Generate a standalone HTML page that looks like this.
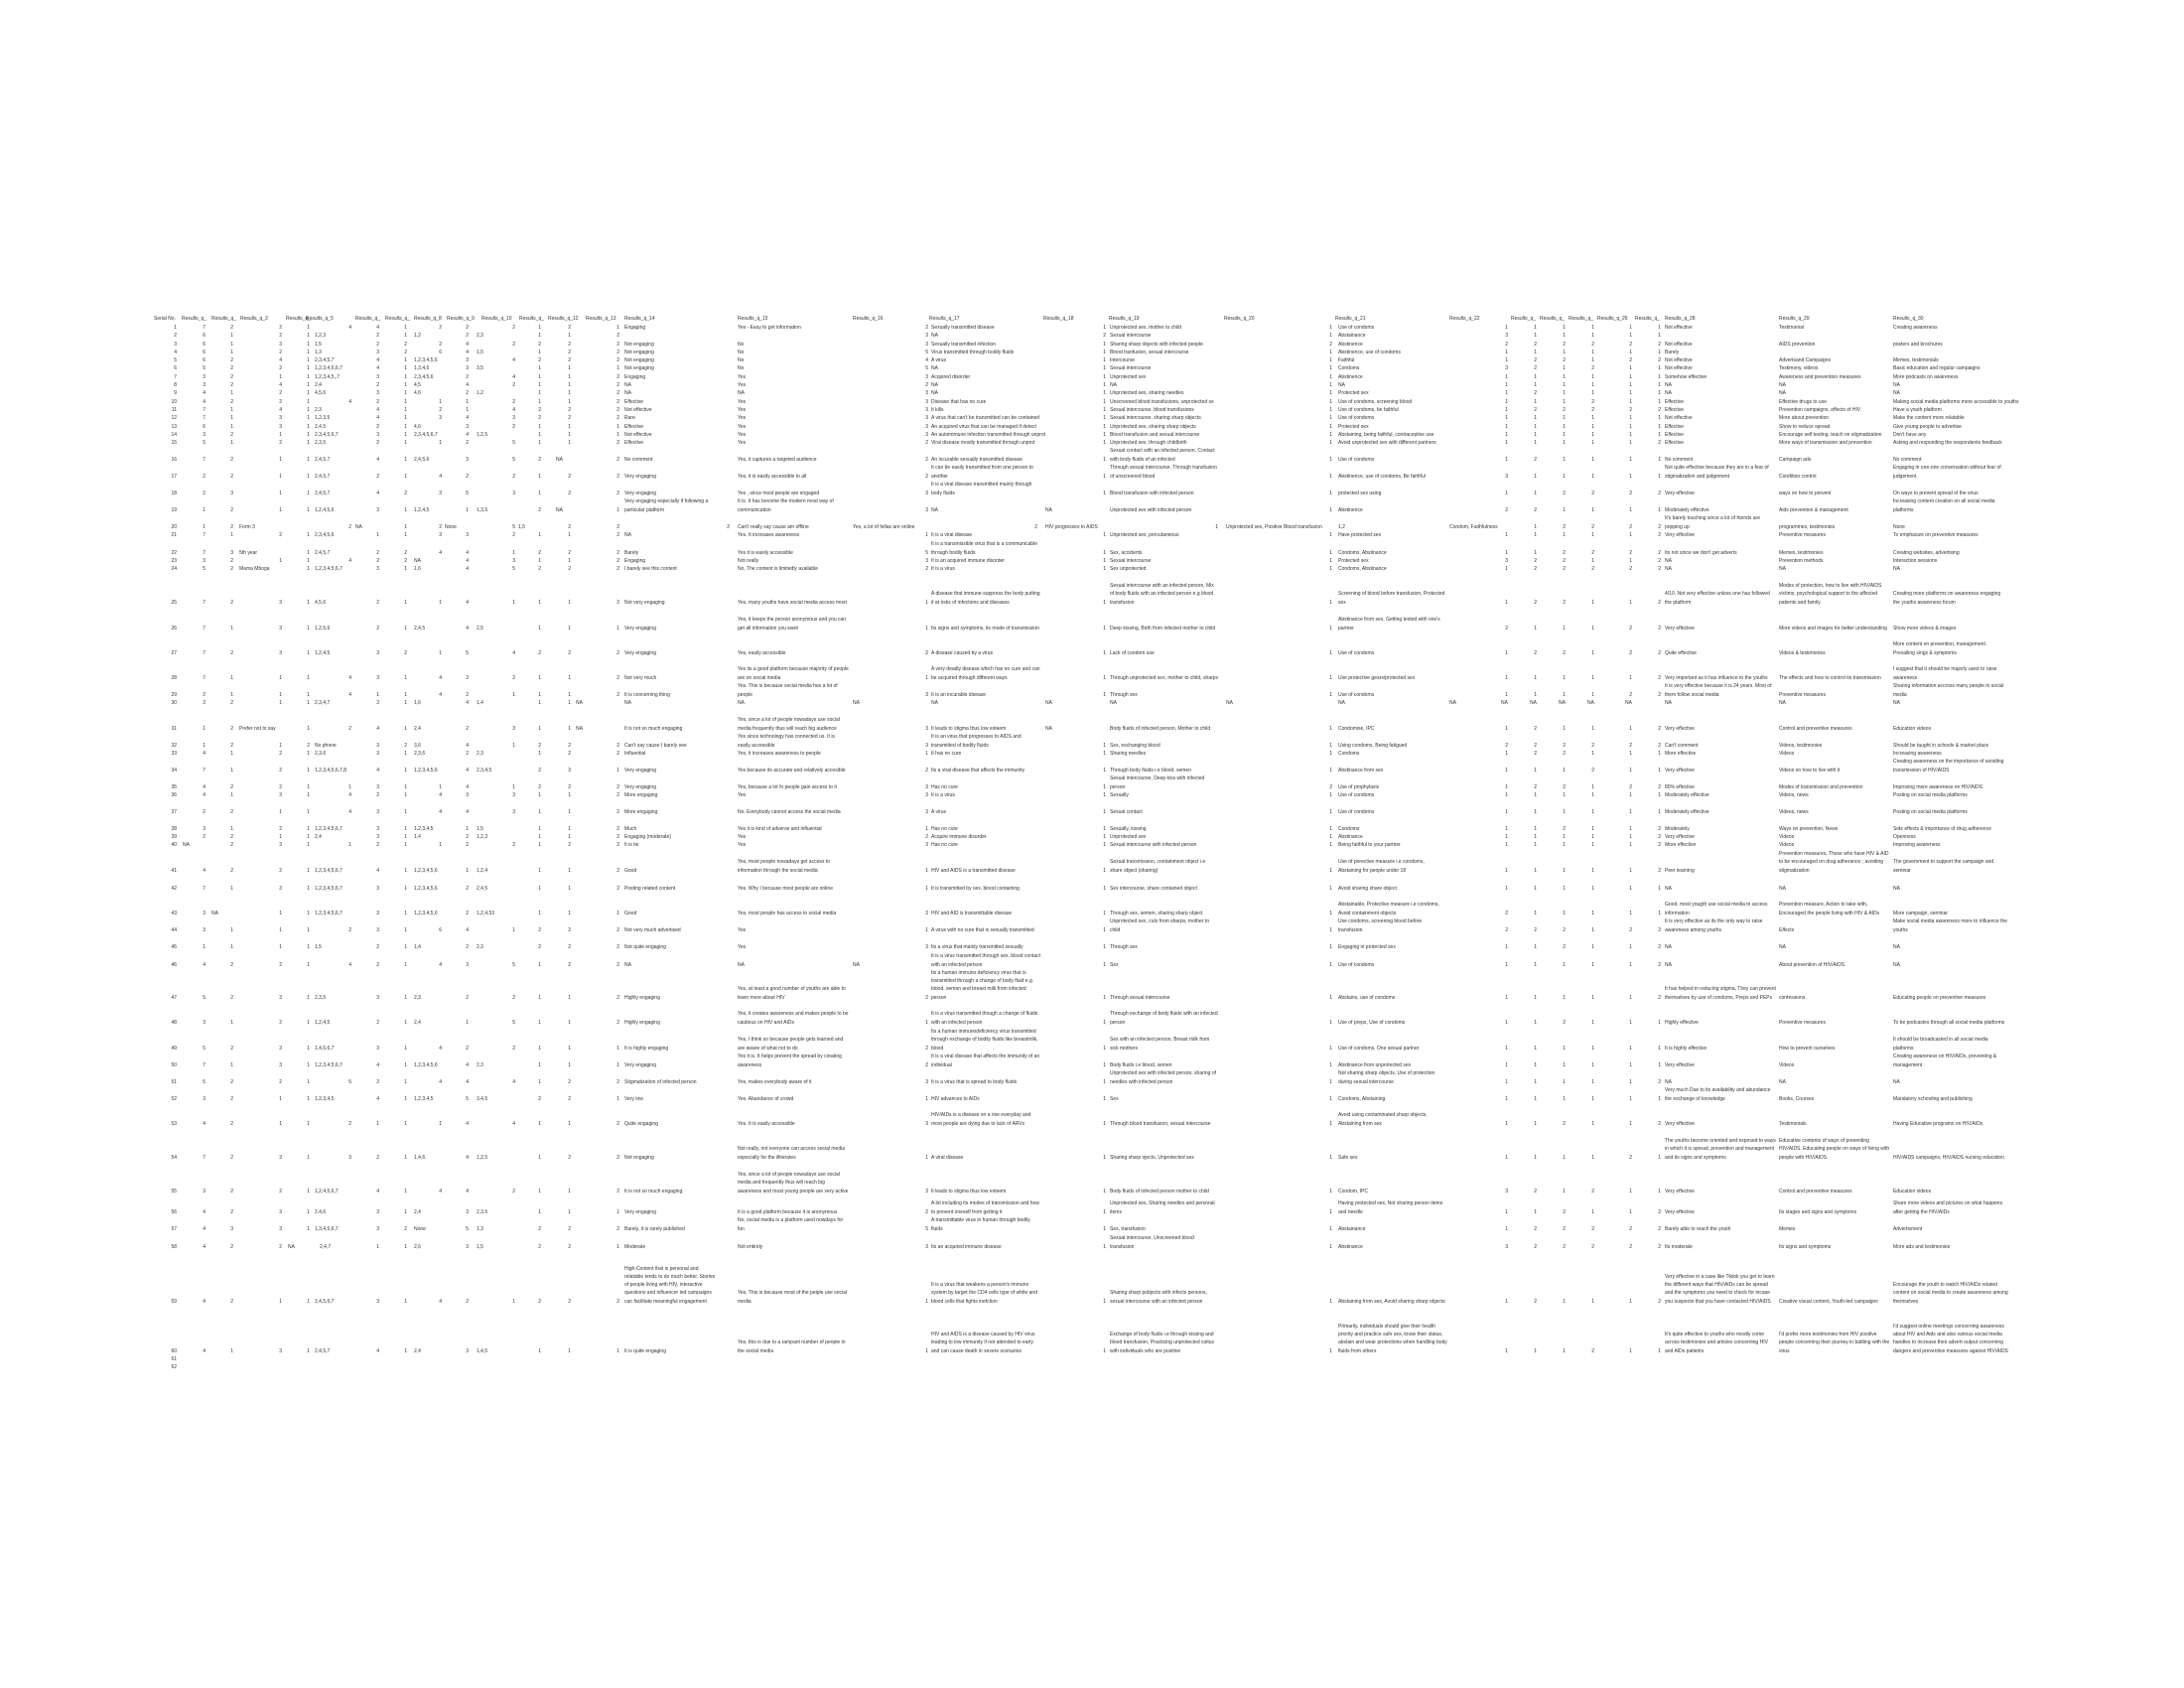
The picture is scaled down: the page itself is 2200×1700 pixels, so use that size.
<!DOCTYPE html>
<html><head><meta charset="utf-8">
<style>
html,body{margin:0;padding:0;background:#fff;}
body{width:2200px;height:1700px;position:relative;overflow:hidden;font-family:"Liberation Sans",sans-serif;font-size:5px;line-height:8.3px;color:#333;}
p{position:absolute;left:0;margin:0;width:2200px;height:8px;}
b{position:absolute;bottom:0;font-weight:400;white-space:nowrap;}
.n{width:20px;text-align:right}
.s{left:158px}.q1{left:187px}.q2{left:215px}.q3{left:264px}.q4{left:292px}.t5{left:317px}.q5{left:334px}.q6{left:362px}.q7{left:390px}.t8{left:417px}.q8{left:425px}.q9{left:452px}.t10{left:480px}.q10{left:499px}.q11{left:525px}.q12{left:555px}.q13{left:604px}
.t1{left:184px}.t2{left:213px}.t3{left:241px}.t4{left:290px}.t12{left:560px}
.t14{left:629px;width:92px;white-space:normal}
.q14{left:715px}
.t15{left:743px;width:112px;white-space:normal}
.t16{left:859px}
.q16{left:915px}
.t17{left:938px;width:112px;white-space:normal}
.t18{left:1053px}
.q18{left:1094px}
.t19{left:1118px;width:110px;white-space:normal}
.q20{left:1322px}
.t20{left:1235px}
.t21{left:1348px;width:110px;white-space:normal}
.t22{left:1460px}
.k1{left:1499px}.k2{left:1528px}.k3{left:1557px}.k4{left:1586px}.k5{left:1624px}.k6{left:1653px}
.t28{left:1677px;width:112px;white-space:normal}
.t29{left:1792px;width:112px;white-space:normal}
.t30{left:1907px;width:116px;white-space:normal}
</style></head><body>

<p style="top:317px"><b style="left:155px">Serial No.</b><b style="left:183px">Results_q_</b><b style="left:213px">Results_q_</b><b style="left:242px">Results_q_3</b><b style="left:288px">Results_q_</b><b style="left:308px">Results_q_5</b><b style="left:358px">Results_q_</b><b style="left:388px">Results_q_</b><b style="left:417px">Results_q_8</b><b style="left:450px">Results_q_9</b><b style="left:485px">Results_q_10</b><b style="left:523px">Results_q_</b><b style="left:552px">Results_q_12</b><b style="left:590px">Results_q_13</b><b style="left:629px">Results_q_14</b><b style="left:743px">Results_q_15</b><b style="left:859px">Results_q_16</b><b style="left:936px">Results_q_17</b><b style="left:1051px">Results_q_18</b><b style="left:1117px">Results_q_19</b><b style="left:1233px">Results_q_20</b><b style="left:1345px">Results_q_21</b><b style="left:1460px">Results_q_22</b><b style="left:1522px">Results_q_</b><b style="left:1551px">Results_q_</b><b style="left:1580px">Results_q_</b><b style="left:1609px">Results_q_26</b><b style="left:1647px">Results_q_</b><b style="left:1677px">Results_q_28</b><b style="left:1792px">Results_q_29</b><b style="left:1907px">Results_q_30</b></p>

<p style="top:326px"><b class="s n">1</b><b class="q1 n">7</b><b class="q2 n">2</b><b class="q3 n">2</b><b class="q4 n">1</b><b class="q5 n">4</b><b class="q6 n">4</b><b class="q7 n">1</b><b class="q8 n">2</b><b class="q9 n">2</b><b class="q10 n">2</b><b class="q11 n">1</b><b class="q12 n">2</b><b class="q13 n">1</b><b class="t14">Engaging</b><b class="t15">Yes - Easy to get information</b><b class="q16 n">2</b><b class="t17">Sexually transmitted disease</b><b class="q18 n">1</b><b class="t19">Unprotected sex, mother to child</b><b class="q20 n">1</b><b class="t21">Use of condoms</b><b class="k1 n">1</b><b class="k2 n">1</b><b class="k3 n">1</b><b class="k4 n">1</b><b class="k5 n">1</b><b class="k6 n">1</b><b class="t28">Not effective</b><b class="t29">Testimonial</b><b class="t30">Creating awareness</b></p>
<p style="top:334px"><b class="s n">2</b><b class="q1 n">6</b><b class="q2 n">1</b><b class="q3 n">2</b><b class="q4 n">1</b><b class="t5">1,2,3</b><b class="q6 n">2</b><b class="q7 n">1</b><b class="t8">1,2</b><b class="q9 n">2</b><b class="t10">2,3</b><b class="q11 n">1</b><b class="q12 n">1</b><b class="q13 n">2</b><b class="q16 n">3</b><b class="t17">NA</b><b class="q18 n">2</b><b class="t19">Sexual intercourse</b><b class="q20 n">1</b><b class="t21">Abstainance</b><b class="k1 n">3</b><b class="k2 n">1</b><b class="k3 n">1</b><b class="k4 n">1</b><b class="k5 n">1</b><b class="k6 n">1</b></p>
<p style="top:343px"><b class="s n">3</b><b class="q1 n">6</b><b class="q2 n">1</b><b class="q3 n">3</b><b class="q4 n">1</b><b class="t5">1,5</b><b class="q6 n">2</b><b class="q7 n">2</b><b class="q8 n">2</b><b class="q9 n">4</b><b class="q10 n">2</b><b class="q11 n">2</b><b class="q12 n">2</b><b class="q13 n">2</b><b class="t14">Not engaging</b><b class="t15">No</b><b class="q16 n">3</b><b class="t17">Sexually transmitted infection</b><b class="q18 n">1</b><b class="t19">Sharing sharp objects with infected people</b><b class="q20 n">2</b><b class="t21">Abstinence</b><b class="k1 n">2</b><b class="k2 n">2</b><b class="k3 n">2</b><b class="k4 n">2</b><b class="k5 n">2</b><b class="k6 n">2</b><b class="t28">Not effective</b><b class="t29">AIDS prevention</b><b class="t30">posters and brochures</b></p>
<p style="top:351px"><b class="s n">4</b><b class="q1 n">6</b><b class="q2 n">1</b><b class="q3 n">2</b><b class="q4 n">1</b><b class="t5">1,3</b><b class="q6 n">3</b><b class="q7 n">2</b><b class="q8 n">6</b><b class="q9 n">4</b><b class="t10">1,5</b><b class="q11 n">1</b><b class="q12 n">2</b><b class="q13 n">2</b><b class="t14">Not engaging</b><b class="t15">No</b><b class="q16 n">5</b><b class="t17">Virus transmitted through bodily fluids</b><b class="q18 n">1</b><b class="t19">Blood tranfusion, sexual intercourse</b><b class="q20 n">1</b><b class="t21">Abstinence, use of condoms</b><b class="k1 n">1</b><b class="k2 n">1</b><b class="k3 n">1</b><b class="k4 n">1</b><b class="k5 n">1</b><b class="k6 n">1</b><b class="t28">Barely</b></p>
<p style="top:359px"><b class="s n">5</b><b class="q1 n">6</b><b class="q2 n">2</b><b class="q3 n">4</b><b class="q4 n">1</b><b class="t5">2,3,4,5,7</b><b class="q6 n">4</b><b class="q7 n">1</b><b class="t8">1,2,3,4,5,6</b><b class="q9 n">3</b><b class="q10 n">4</b><b class="q11 n">2</b><b class="q12 n">2</b><b class="q13 n">2</b><b class="t14">Not engaging</b><b class="t15">No</b><b class="q16 n">4</b><b class="t17">A virus</b><b class="q18 n">1</b><b class="t19">Intercourse</b><b class="q20 n">1</b><b class="t21">Faithful</b><b class="k1 n">1</b><b class="k2 n">2</b><b class="k3 n">2</b><b class="k4 n">1</b><b class="k5 n">2</b><b class="k6 n">2</b><b class="t28">Not effective</b><b class="t29">Advertsand Campaigns</b><b class="t30">Memes, testimonials</b></p>
<p style="top:367px"><b class="s n">6</b><b class="q1 n">5</b><b class="q2 n">2</b><b class="q3 n">2</b><b class="q4 n">1</b><b class="t5">1,2,3,4,5,6,7</b><b class="q6 n">4</b><b class="q7 n">1</b><b class="t8">1,3,4,6</b><b class="q9 n">3</b><b class="t10">3,5</b><b class="q11 n">1</b><b class="q12 n">1</b><b class="q13 n">1</b><b class="t14">Not engaging</b><b class="t15">No</b><b class="q16 n">5</b><b class="t17">NA</b><b class="q18 n">1</b><b class="t19">Sexual intercourse</b><b class="q20 n">1</b><b class="t21">Condoms</b><b class="k1 n">3</b><b class="k2 n">2</b><b class="k3 n">1</b><b class="k4 n">2</b><b class="k5 n">1</b><b class="k6 n">1</b><b class="t28">Not effective</b><b class="t29">Testimony, videos</b><b class="t30">Basic education and regular campaigns</b></p>
<p style="top:376px"><b class="s n">7</b><b class="q1 n">3</b><b class="q2 n">2</b><b class="q3 n">1</b><b class="q4 n">1</b><b class="t5">1,2,3,4,5,,7</b><b class="q6 n">3</b><b class="q7 n">1</b><b class="t8">2,3,4,5,6</b><b class="q9 n">2</b><b class="q10 n">4</b><b class="q11 n">1</b><b class="q12 n">1</b><b class="q13 n">2</b><b class="t14">Engaging</b><b class="t15">Yes</b><b class="q16 n">3</b><b class="t17">Acquired disorder</b><b class="q18 n">1</b><b class="t19">Unprotected sex</b><b class="q20 n">1</b><b class="t21">Abstinence</b><b class="k1 n">1</b><b class="k2 n">1</b><b class="k3 n">1</b><b class="k4 n">1</b><b class="k5 n">1</b><b class="k6 n">1</b><b class="t28">Somehow effective</b><b class="t29">Awareness and prevention measures</b><b class="t30">More podcasts on awareness</b></p>
<p style="top:384px"><b class="s n">8</b><b class="q1 n">3</b><b class="q2 n">2</b><b class="q3 n">4</b><b class="q4 n">1</b><b class="t5">2,4</b><b class="q6 n">2</b><b class="q7 n">1</b><b class="t8">4,5</b><b class="q9 n">4</b><b class="q10 n">2</b><b class="q11 n">1</b><b class="q12 n">1</b><b class="q13 n">2</b><b class="t14">NA</b><b class="t15">Yes</b><b class="q16 n">2</b><b class="t17">NA</b><b class="q18 n">1</b><b class="t19">NA</b><b class="q20 n">1</b><b class="t21">NA</b><b class="k1 n">1</b><b class="k2 n">1</b><b class="k3 n">1</b><b class="k4 n">1</b><b class="k5 n">1</b><b class="k6 n">1</b><b class="t28">NA</b><b class="t29">NA</b><b class="t30">NA</b></p>
<p style="top:392px"><b class="s n">9</b><b class="q1 n">4</b><b class="q2 n">1</b><b class="q3 n">2</b><b class="q4 n">1</b><b class="t5">4,5,6</b><b class="q6 n">3</b><b class="q7 n">1</b><b class="t8">4,6</b><b class="q9 n">2</b><b class="t10">1,2</b><b class="q11 n">1</b><b class="q12 n">1</b><b class="q13 n">2</b><b class="t14">NA</b><b class="t15">NA</b><b class="q16 n">3</b><b class="t17">NA</b><b class="q18 n">1</b><b class="t19">Unprotected sex, sharing needles</b><b class="q20 n">1</b><b class="t21">Protected sex</b><b class="k1 n">1</b><b class="k2 n">2</b><b class="k3 n">1</b><b class="k4 n">1</b><b class="k5 n">1</b><b class="k6 n">1</b><b class="t28">NA</b><b class="t29">NA</b><b class="t30">NA</b></p>
<p style="top:401px"><b class="s n">10</b><b class="q1 n">4</b><b class="q2 n">2</b><b class="q3 n">2</b><b class="q4 n">1</b><b class="q5 n">4</b><b class="q6 n">2</b><b class="q7 n">1</b><b class="q8 n">1</b><b class="q9 n">1</b><b class="q10 n">2</b><b class="q11 n">1</b><b class="q12 n">1</b><b class="q13 n">2</b><b class="t14">Effective</b><b class="t15">Yes</b><b class="q16 n">3</b><b class="t17">Disease that has no cure</b><b class="q18 n">1</b><b class="t19">Unscreened blood transfusions, unprotected se</b><b class="q20 n">1</b><b class="t21">Use of condoms, screening blood</b><b class="k1 n">1</b><b class="k2 n">1</b><b class="k3 n">1</b><b class="k4 n">2</b><b class="k5 n">1</b><b class="k6 n">1</b><b class="t28">Effective</b><b class="t29">Effective drugs to use</b><b class="t30" style="white-space:nowrap">Making social media platforms more accessible to youths</b></p>
<p style="top:409px"><b class="s n">11</b><b class="q1 n">7</b><b class="q2 n">1</b><b class="q3 n">4</b><b class="q4 n">1</b><b class="t5">2,3</b><b class="q6 n">4</b><b class="q7 n">1</b><b class="q8 n">2</b><b class="q9 n">1</b><b class="q10 n">4</b><b class="q11 n">2</b><b class="q12 n">2</b><b class="q13 n">2</b><b class="t14">Not effective</b><b class="t15">Yes</b><b class="q16 n">3</b><b class="t17">It kills</b><b class="q18 n">1</b><b class="t19">Sexual intercourse, blood transfusions</b><b class="q20 n">1</b><b class="t21">Use of condoms, be faithful</b><b class="k1 n">1</b><b class="k2 n">2</b><b class="k3 n">2</b><b class="k4 n">2</b><b class="k5 n">2</b><b class="k6 n">2</b><b class="t28">Effective</b><b class="t29">Prevention campaigns, effects of HIV</b><b class="t30">Have a youth platform</b></p>
<p style="top:417px"><b class="s n">12</b><b class="q1 n">7</b><b class="q2 n">1</b><b class="q3 n">3</b><b class="q4 n">1</b><b class="t5">1,2,3,5</b><b class="q6 n">4</b><b class="q7 n">1</b><b class="q8 n">3</b><b class="q9 n">4</b><b class="q10 n">3</b><b class="q11 n">2</b><b class="q12 n">2</b><b class="q13 n">2</b><b class="t14">Rare</b><b class="t15">Yes</b><b class="q16 n">3</b><b class="t17" style="white-space:nowrap">A virus that can't be transmitted can be contained</b><b class="q18 n">1</b><b class="t19">Sexual intercourse, sharing sharp objects</b><b class="q20 n">1</b><b class="t21">Use of condoms</b><b class="k1 n">1</b><b class="k2 n">1</b><b class="k3 n">1</b><b class="k4 n">1</b><b class="k5 n">1</b><b class="k6 n">1</b><b class="t28">Not effective</b><b class="t29">More about prevention</b><b class="t30">Make the content more relatable</b></p>
<p style="top:426px"><b class="s n">13</b><b class="q1 n">6</b><b class="q2 n">1</b><b class="q3 n">3</b><b class="q4 n">1</b><b class="t5">2,4,5</b><b class="q6 n">2</b><b class="q7 n">1</b><b class="t8">4,6</b><b class="q9 n">3</b><b class="q10 n">2</b><b class="q11 n">1</b><b class="q12 n">1</b><b class="q13 n">1</b><b class="t14">Effective</b><b class="t15">Yes</b><b class="q16 n">3</b><b class="t17" style="white-space:nowrap">An acquired virus that can be managed if detect</b><b class="q18 n">1</b><b class="t19">Unprotected sex, sharing sharp objects</b><b class="q20 n">1</b><b class="t21">Protected sex</b><b class="k1 n">1</b><b class="k2 n">1</b><b class="k3 n">1</b><b class="k4 n">1</b><b class="k5 n">1</b><b class="k6 n">1</b><b class="t28">Effective</b><b class="t29">Show to reduce spread</b><b class="t30">Give young people to advertise</b></p>
<p style="top:434px"><b class="s n">14</b><b class="q1 n">3</b><b class="q2 n">2</b><b class="q3 n">1</b><b class="q4 n">1</b><b class="t5">2,3,4,5,6,7</b><b class="q6 n">3</b><b class="q7 n">1</b><b class="t8">2,3,4,5,6,7</b><b class="q9 n">4</b><b class="t10">1,2,5</b><b class="q11 n">1</b><b class="q12 n">1</b><b class="q13 n">1</b><b class="t14">Not effective</b><b class="t15">Yes</b><b class="q16 n">3</b><b class="t17" style="white-space:nowrap">An autoimmune infection transmitted through unprot</b><b class="q18 n">1</b><b class="t19">Blood transfusion and sexual intercourse</b><b class="q20 n">1</b><b class="t21" style="white-space:nowrap">Abstaining, being faithful, contraceptive use</b><b class="k1 n">1</b><b class="k2 n">1</b><b class="k3 n">1</b><b class="k4 n">1</b><b class="k5 n">1</b><b class="k6 n">1</b><b class="t28">Effective</b><b class="t29" style="white-space:nowrap">Encourage self testing, teach on stigmatization</b><b class="t30">Don't have any</b></p>
<p style="top:442px"><b class="s n">15</b><b class="q1 n">5</b><b class="q2 n">1</b><b class="q3 n">2</b><b class="q4 n">1</b><b class="t5">2,3,5</b><b class="q6 n">2</b><b class="q7 n">1</b><b class="q8 n">1</b><b class="q9 n">2</b><b class="q10 n">5</b><b class="q11 n">1</b><b class="q12 n">1</b><b class="q13 n">2</b><b class="t14">Effective</b><b class="t15">Yes</b><b class="q16 n">2</b><b class="t17" style="white-space:nowrap">Viral disease mostly transmitted through unprot</b><b class="q18 n">1</b><b class="t19">Unprotected sex, through childbirth</b><b class="q20 n">1</b><b class="t21" style="white-space:nowrap">Avoid unprotected sex with different partners</b><b class="k1 n">1</b><b class="k2 n">1</b><b class="k3 n">1</b><b class="k4 n">1</b><b class="k5 n">1</b><b class="k6 n">2</b><b class="t28">Effective</b><b class="t29" style="white-space:nowrap">More ways of transmission and prevention</b><b class="t30" style="white-space:nowrap">Asking and responding the respondents feedback</b></p>
<p style="top:459px"><b class="s n">16</b><b class="q1 n">7</b><b class="q2 n">2</b><b class="q3 n">1</b><b class="q4 n">1</b><b class="t5">2,4,5,7</b><b class="q6 n">4</b><b class="q7 n">1</b><b class="t8">2,4,5,6</b><b class="q9 n">3</b><b class="q10 n">5</b><b class="q11 n">2</b><b class="t12">NA</b><b class="q13 n">2</b><b class="t14">No comment</b><b class="t15">Yes, it captures a targeted audience</b><b class="q16 n">2</b><b class="t17">An incurable sexually transmitted disease</b><b class="q18 n">1</b><b class="t19">Sexual contact with an infected person. Contact with body fluids of an infected</b><b class="q20 n">1</b><b class="t21">Use of condoms</b><b class="k1 n">1</b><b class="k2 n">2</b><b class="k3 n">1</b><b class="k4 n">1</b><b class="k5 n">1</b><b class="k6 n">1</b><b class="t28">No comment</b><b class="t29">Campaign ads</b><b class="t30">No comment</b></p>
<p style="top:476px"><b class="s n">17</b><b class="q1 n">2</b><b class="q2 n">2</b><b class="q3 n">1</b><b class="q4 n">1</b><b class="t5">2,4,5,7</b><b class="q6 n">2</b><b class="q7 n">1</b><b class="q8 n">4</b><b class="q9 n">2</b><b class="q10 n">2</b><b class="q11 n">1</b><b class="q12 n">2</b><b class="q13 n">2</b><b class="t14">Very engaging</b><b class="t15">Yes, it is easily accessible to all</b><b class="q16 n">2</b><b class="t17">It can be easily transmitted from one person to another</b><b class="q18 n">1</b><b class="t19">Through sexual intercourse. Through transfusion of unscreened blood</b><b class="q20 n">1</b><b class="t21">Abstinence, use of condoms, Be faithful</b><b class="k1 n">3</b><b class="k2 n">1</b><b class="k3 n">1</b><b class="k4 n">1</b><b class="k5 n">1</b><b class="k6 n">1</b><b class="t28">Not quite effective because they are in a fear of stigmatization and judgement</b><b class="t29">Condition control</b><b class="t30">Engaging in one-one conversation without fear of judgement</b></p>
<p style="top:493px"><b class="s n">18</b><b class="q1 n">2</b><b class="q2 n">3</b><b class="q3 n">1</b><b class="q4 n">1</b><b class="t5">2,4,5,7</b><b class="q6 n">4</b><b class="q7 n">2</b><b class="q8 n">3</b><b class="q9 n">5</b><b class="q10 n">3</b><b class="q11 n">1</b><b class="q12 n">2</b><b class="q13 n">2</b><b class="t14">Very engaging</b><b class="t15">Yes , since most people are engaged</b><b class="q16 n">3</b><b class="t17">It is a viral disease transmitted mainly through body fluids</b><b class="q18 n">1</b><b class="t19">Blood transfusion with infected person</b><b class="q20 n">1</b><b class="t21">protected sex using</b><b class="k1 n">1</b><b class="k2 n">1</b><b class="k3 n">2</b><b class="k4 n">2</b><b class="k5 n">2</b><b class="k6 n">2</b><b class="t28">Very effective</b><b class="t29">ways on how to prevent</b><b class="t30">On ways to prevent spread of the virus</b></p>
<p style="top:510px"><b class="s n">19</b><b class="q1 n">1</b><b class="q2 n">2</b><b class="q3 n">1</b><b class="q4 n">1</b><b class="t5">1,2,4,5,6</b><b class="q6 n">3</b><b class="q7 n">1</b><b class="t8">1,2,4,5</b><b class="q9 n">1</b><b class="t10">1,3,5</b><b class="q11 n">2</b><b class="t12">NA</b><b class="q13 n">1</b><b class="t14">Very engaging especially if following a particular platform</b><b class="t15">It is. It has become the modern most way of communication</b><b class="q16 n">3</b><b class="t17">NA</b><b class="t18">NA</b><b class="t19">Unprotected sex with infected person</b><b class="q20 n">1</b><b class="t21">Abstinence</b><b class="k1 n">2</b><b class="k2 n">2</b><b class="k3 n">1</b><b class="k4 n">1</b><b class="k5 n">1</b><b class="k6 n">1</b><b class="t28">Moderately effective</b><b class="t29">Aids prevention &amp; management</b><b class="t30">Increasing content creation on all social media platforms</b></p>
<p style="top:527px"><b class="s n">20</b><b class="q1 n">1</b><b class="q2 n">2</b><b class="t3">Form 3</b><b class="q5 n">2</b><b class="t5" style="left:358px">NA</b><b class="q7 n">1</b><b class="q8 n">2</b><b class="t8" style="left:448px">None</b><b class="q10 n">5</b><b class="t10" style="left:522px">1,5</b><b class="q12 n">2</b><b class="q13 n">2</b><b class="q14 n">2</b><b class="t15">Can't really say cause am offline</b><b class="t16">Yes, a lot of fellas are online</b><b class="n" style="left:1025px">2</b><b class="t18">HIV progresses to AIDS</b><b class="n" style="left:1207px">1</b><b class="t20">Unprotected sex, Positive Blood transfusion</b><b class="t21">1,2</b><b class="t22">Condom, Faithfulness</b><b class="k2 n">1</b><b class="k3 n">2</b><b class="k4 n">2</b><b class="k5 n">2</b><b class="k6 n">2</b><b class="t28">It's barely touching since a lot of friends are popping up</b><b class="t29">programmes, testimonies</b><b class="t30">None</b></p>
<p style="top:535px"><b class="s n">21</b><b class="q1 n">7</b><b class="q2 n">1</b><b class="q3 n">2</b><b class="q4 n">1</b><b class="t5">2,3,4,5,6</b><b class="q6 n">1</b><b class="q7 n">1</b><b class="q8 n">3</b><b class="q9 n">3</b><b class="q10 n">2</b><b class="q11 n">1</b><b class="q12 n">1</b><b class="q13 n">2</b><b class="t14">NA</b><b class="t15">Yes. It increases awareness</b><b class="q16 n">1</b><b class="t17">It is a viral disease</b><b class="q18 n">1</b><b class="t19">Unprotected sex, percutaneous</b><b class="q20 n">1</b><b class="t21">Have protected sex</b><b class="k1 n">1</b><b class="k2 n">1</b><b class="k3 n">1</b><b class="k4 n">1</b><b class="k5 n">1</b><b class="k6 n">2</b><b class="t28">Very effective</b><b class="t29">Preventive measures</b><b class="t30">To emphasize on preventive measures</b></p>
<p style="top:553px"><b class="s n">22</b><b class="q1 n">7</b><b class="q2 n">3</b><b class="t3">5th year</b><b class="q4 n">1</b><b class="t5">2,4,5,7</b><b class="q6 n">2</b><b class="q7 n">2</b><b class="q8 n">4</b><b class="q9 n">4</b><b class="q10 n">1</b><b class="q11 n">2</b><b class="q12 n">2</b><b class="q13 n">2</b><b class="t14">Barely</b><b class="t15">Yes it is easily accessible</b><b class="q16 n">5</b><b class="t17">It is a transmissible virus that is a communicable through bodily fluids</b><b class="q18 n">1</b><b class="t19">Sex, accidents</b><b class="q20 n">1</b><b class="t21">Condoms, Abstinance</b><b class="k1 n">1</b><b class="k2 n">1</b><b class="k3 n">2</b><b class="k4 n">2</b><b class="k5 n">2</b><b class="k6 n">2</b><b class="t28">Its not since we don't get adverts</b><b class="t29">Memes, testimonies</b><b class="t30">Creating websites, advertising</b></p>
<p style="top:561px"><b class="s n">23</b><b class="q1 n">3</b><b class="q2 n">2</b><b class="q3 n">1</b><b class="q4 n">1</b><b class="q5 n">4</b><b class="q6 n">2</b><b class="q7 n">2</b><b class="t8">NA</b><b class="q9 n">4</b><b class="q10 n">3</b><b class="q11 n">1</b><b class="q12 n">1</b><b class="q13 n">2</b><b class="t14">Engaging</b><b class="t15">Not really</b><b class="q16 n">3</b><b class="t17">It is an acquired immune disorder</b><b class="q18 n">1</b><b class="t19">Sexual intercourse</b><b class="q20 n">1</b><b class="t21">Protected sex</b><b class="k1 n">3</b><b class="k2 n">2</b><b class="k3 n">2</b><b class="k4 n">1</b><b class="k5 n">1</b><b class="k6 n">2</b><b class="t28">NA</b><b class="t29">Prevention methods</b><b class="t30">Interaction sessions</b></p>
<p style="top:569px"><b class="s n">24</b><b class="q1 n">5</b><b class="q2 n">2</b><b class="t3">Mama Mboga</b><b class="q4 n">1</b><b class="t5">1,2,3,4,5,6,7</b><b class="q6 n">3</b><b class="q7 n">1</b><b class="t8">1,6</b><b class="q9 n">4</b><b class="q10 n">5</b><b class="q11 n">2</b><b class="q12 n">2</b><b class="q13 n">2</b><b class="t14">I barely see this content</b><b class="t15">No, The content is limitedly available</b><b class="q16 n">2</b><b class="t17">It is a virus</b><b class="q18 n">1</b><b class="t19">Sex unprotected</b><b class="q20 n">1</b><b class="t21">Condoms, Abstinance</b><b class="k1 n">1</b><b class="k2 n">2</b><b class="k3 n">2</b><b class="k4 n">2</b><b class="k5 n">2</b><b class="k6 n">2</b><b class="t28">NA</b><b class="t29">NA</b><b class="t30">NA</b></p>
<p style="top:603px"><b class="s n">25</b><b class="q1 n">7</b><b class="q2 n">2</b><b class="q3 n">3</b><b class="q4 n">1</b><b class="t5">4,5,6</b><b class="q6 n">2</b><b class="q7 n">1</b><b class="q8 n">1</b><b class="q9 n">4</b><b class="q10 n">1</b><b class="q11 n">1</b><b class="q12 n">1</b><b class="q13 n">2</b><b class="t14">Not very engaging</b><b class="t15">Yes, many youths have social media access most</b><b class="q16 n">1</b><b class="t17">A disease that immune-suppress the body putting it at risks of infections and diseases</b><b class="q18 n">1</b><b class="t19">Sexual intercourse with an infected person, Mix of body fluids with an infected person e.g blood transfusion</b><b class="q20 n">1</b><b class="t21">Screening of blood before transfusion, Protected sex</b><b class="k1 n">1</b><b class="k2 n">2</b><b class="k3 n">2</b><b class="k4 n">1</b><b class="k5 n">1</b><b class="k6 n">2</b><b class="t28">4/10. Not very effective unless one has followed the platform</b><b class="t29">Modes of protection, how to live with HIV/AIDS victims, psychological support to the affected patients and family</b><b class="t30">Creating more platforms on awareness engaging the youths awareness forum</b></p>
<p style="top:629px"><b class="s n">26</b><b class="q1 n">7</b><b class="q2 n">1</b><b class="q3 n">3</b><b class="q4 n">1</b><b class="t5">1,2,5,6</b><b class="q6 n">2</b><b class="q7 n">1</b><b class="t8">2,4,5</b><b class="q9 n">4</b><b class="t10">2,5</b><b class="q11 n">1</b><b class="q12 n">1</b><b class="q13 n">1</b><b class="t14">Very engaging</b><b class="t15">Yes, it keeps the person anonymous and you can get all information you want</b><b class="q16 n">1</b><b class="t17">Its signs and symptoms, its mode of transmission</b><b class="q18 n">1</b><b class="t19">Deep kissing, Birth from infected mother to child</b><b class="q20 n">1</b><b class="t21">Abstinance from sex, Getting tested with one's partner</b><b class="k1 n">2</b><b class="k2 n">1</b><b class="k3 n">1</b><b class="k4 n">1</b><b class="k5 n">2</b><b class="k6 n">2</b><b class="t28">Very effective</b><b class="t29">More videos and images for better understanding</b><b class="t30">Show more videos &amp; images</b></p>
<p style="top:654px"><b class="s n">27</b><b class="q1 n">7</b><b class="q2 n">2</b><b class="q3 n">3</b><b class="q4 n">1</b><b class="t5">1,2,4,5</b><b class="q6 n">3</b><b class="q7 n">2</b><b class="q8 n">1</b><b class="q9 n">5</b><b class="q10 n">4</b><b class="q11 n">2</b><b class="q12 n">2</b><b class="q13 n">2</b><b class="t14">Very engaging</b><b class="t15">Yes, easily accessible</b><b class="q16 n">2</b><b class="t17">A disease caused by a virus</b><b class="q18 n">1</b><b class="t19">Lack of condom use</b><b class="q20 n">1</b><b class="t21">Use of condoms</b><b class="k1 n">1</b><b class="k2 n">2</b><b class="k3 n">2</b><b class="k4 n">1</b><b class="k5 n">2</b><b class="k6 n">2</b><b class="t28">Quite effective</b><b class="t29">Videos &amp; testimonies</b><b class="t30">More content on prevention, management. Prevailing sings &amp; symptoms</b></p>
<p style="top:679px"><b class="s n">28</b><b class="q1 n">7</b><b class="q2 n">1</b><b class="q3 n">1</b><b class="q4 n">1</b><b class="q5 n">4</b><b class="q6 n">3</b><b class="q7 n">1</b><b class="q8 n">4</b><b class="q9 n">3</b><b class="q10 n">2</b><b class="q11 n">1</b><b class="q12 n">1</b><b class="q13 n">2</b><b class="t14">Not very much</b><b class="t15">Yes its a good platform because majority of people are on social media</b><b class="q16 n">1</b><b class="t17">A very deadly disease which has no cure and can be acquired through different ways</b><b class="q18 n">1</b><b class="t19">Through unprotected sex, mother to child, sharps</b><b class="q20 n">1</b><b class="t21">Use protective gears/protected sex</b><b class="k1 n">1</b><b class="k2 n">1</b><b class="k3 n">1</b><b class="k4 n">1</b><b class="k5 n">1</b><b class="k6 n">2</b><b class="t28" style="white-space:nowrap">Very important as it has influence to the youths</b><b class="t29" style="white-space:nowrap">The effects and how to control its transmission</b><b class="t30">I suggest that it should be majorly used to raise awareness</b></p>
<p style="top:696px"><b class="s n">29</b><b class="q1 n">2</b><b class="q2 n">1</b><b class="q3 n">1</b><b class="q4 n">1</b><b class="q5 n">4</b><b class="q6 n">1</b><b class="q7 n">1</b><b class="q8 n">4</b><b class="q9 n">2</b><b class="q10 n">1</b><b class="q11 n">1</b><b class="q12 n">1</b><b class="q13 n">2</b><b class="t14">It is concerning thing</b><b class="t15">Yes. This is because social media has a lot of people</b><b class="q16 n">3</b><b class="t17">It is an incurable disease</b><b class="q18 n">1</b><b class="t19">Through sex</b><b class="q20 n">1</b><b class="t21">Use of condoms</b><b class="k1 n">1</b><b class="k2 n">1</b><b class="k3 n">1</b><b class="k4 n">1</b><b class="k5 n">2</b><b class="k6 n">2</b><b class="t28">It is very effective because it is 24 years. Most of them follow social media</b><b class="t29">Preventive measures</b><b class="t30">Sharing information accross many people in social media</b></p>
<p style="top:704px"><b class="s n">30</b><b class="q1 n">3</b><b class="q2 n">2</b><b class="q3 n">1</b><b class="q4 n">1</b><b class="t5">2,3,4,7</b><b class="q6 n">3</b><b class="q7 n">1</b><b class="t8">1,6</b><b class="q9 n">4</b><b class="t10">1,4</b><b class="q11 n">1</b><b class="q12 n">1</b><b class="t12" style="left:580px">NA</b><b class="t14">NA</b><b class="t15">NA</b><b class="t16">NA</b><b class="t17">NA</b><b class="t18">NA</b><b class="t19">NA</b><b class="t20">NA</b><b class="t21">NA</b><b class="t22">NA</b><b class="k1 n">NA</b><b class="k2 n">NA</b><b class="k3 n">NA</b><b class="k4 n">NA</b><b class="k5 n">NA</b><b class="t28">NA</b><b class="t29">NA</b><b class="t30">NA</b></p>
<p style="top:730px"><b class="s n">31</b><b class="q1 n">1</b><b class="q2 n">2</b><b class="t3">Prefer not to say</b><b class="q4 n">1</b><b class="q5 n">2</b><b class="q6 n">4</b><b class="q7 n">1</b><b class="t8">2,4</b><b class="q9 n">2</b><b class="q10 n">3</b><b class="q11 n">1</b><b class="q12 n">1</b><b class="t12" style="left:580px">NA</b><b class="t14">It is not so much engaging</b><b class="t15">Yes, since a lot of people nowadays use social media frequently thus will reach big audience</b><b class="q16 n">3</b><b class="t17">It leads to stigma thus low esteem</b><b class="t18">NA</b><b class="t19">Body fluids of infected person, Mother to child</b><b class="q20 n">1</b><b class="t21">Condomise, IPC</b><b class="k1 n">1</b><b class="k2 n">2</b><b class="k3 n">1</b><b class="k4 n">1</b><b class="k5 n">1</b><b class="k6 n">2</b><b class="t28">Very effective</b><b class="t29">Control and preventive measures</b><b class="t30">Education videos</b></p>
<p style="top:747px"><b class="s n">32</b><b class="q1 n">1</b><b class="q2 n">2</b><b class="q3 n">1</b><b class="q4 n">2</b><b class="t5">No phone</b><b class="q6 n">3</b><b class="q7 n">2</b><b class="t8">3,6</b><b class="q9 n">4</b><b class="q10 n">1</b><b class="q11 n">2</b><b class="q12 n">2</b><b class="q13 n">2</b><b class="t14">Can't say cause I barely see</b><b class="t15">Yes since technology has connected us. It is easily accessible</b><b class="q16 n">3</b><b class="t17">It is an virus that progresses to AIDS and transmitted of bodily fluids</b><b class="q18 n">1</b><b class="t19">Sex, exchanging blood</b><b class="q20 n">1</b><b class="t21">Using condoms, Being fatigued</b><b class="k1 n">2</b><b class="k2 n">2</b><b class="k3 n">2</b><b class="k4 n">2</b><b class="k5 n">2</b><b class="k6 n">2</b><b class="t28">Can't comment</b><b class="t29">Videos, testimonies</b><b class="t30">Should be taught in schools &amp; market place</b></p>
<p style="top:755px"><b class="s n">33</b><b class="q1 n">4</b><b class="q2 n">1</b><b class="q3 n">2</b><b class="q4 n">1</b><b class="t5">2,3,6</b><b class="q6 n">3</b><b class="q7 n">1</b><b class="t8">2,3,6</b><b class="q9 n">2</b><b class="t10">2,3</b><b class="q11 n">1</b><b class="q12 n">2</b><b class="q13 n">2</b><b class="t14">Influential</b><b class="t15">Yes, it increases awareness to people</b><b class="q16 n">1</b><b class="t17">It has no cure</b><b class="q18 n">1</b><b class="t19">Sharing needles</b><b class="q20 n">1</b><b class="t21">Condoms</b><b class="k1 n">1</b><b class="k2 n">2</b><b class="k3 n">2</b><b class="k4 n">1</b><b class="k5 n">1</b><b class="k6 n">1</b><b class="t28">More effective</b><b class="t29">Videos</b><b class="t30">Increasing awareness</b></p>
<p style="top:772px"><b class="s n">34</b><b class="q1 n">7</b><b class="q2 n">1</b><b class="q3 n">2</b><b class="q4 n">1</b><b class="t5">1,2,3,4,5,6,7,8</b><b class="q6 n">4</b><b class="q7 n">1</b><b class="t8">1,2,3,4,5,6</b><b class="q9 n">4</b><b class="t10">2,3,4,5</b><b class="q11 n">2</b><b class="q12 n">3</b><b class="q13 n">1</b><b class="t14">Very engaging</b><b class="t15">Yes because its accurate and relatively accesible</b><b class="q16 n">2</b><b class="t17">Its a viral disease that affects the immunity</b><b class="q18 n">1</b><b class="t19">Through body fluids i.e blood, semen</b><b class="q20 n">1</b><b class="t21">Abstinance from sex</b><b class="k1 n">1</b><b class="k2 n">1</b><b class="k3 n">1</b><b class="k4 n">2</b><b class="k5 n">1</b><b class="k6 n">1</b><b class="t28">Very effective</b><b class="t29">Videos on how to live with it</b><b class="t30">Creating awareness on the importance of avoiding transmission of HIV/AIDS</b></p>
<p style="top:789px"><b class="s n">35</b><b class="q1 n">4</b><b class="q2 n">2</b><b class="q3 n">2</b><b class="q4 n">1</b><b class="q5 n">1</b><b class="q6 n">3</b><b class="q7 n">1</b><b class="q8 n">1</b><b class="q9 n">4</b><b class="q10 n">1</b><b class="q11 n">2</b><b class="q12 n">2</b><b class="q13 n">2</b><b class="t14">Very engaging</b><b class="t15">Yes, because a lot fo people gain access to it</b><b class="q16 n">3</b><b class="t17">Has no cure</b><b class="q18 n">1</b><b class="t19">Sexual intercourse, Deep kiss with infected person</b><b class="q20 n">2</b><b class="t21">Use of prophylaxis</b><b class="k1 n">1</b><b class="k2 n">2</b><b class="k3 n">2</b><b class="k4 n">1</b><b class="k5 n">2</b><b class="k6 n">2</b><b class="t28">80% effective</b><b class="t29">Modes of transmission and prevention</b><b class="t30">Improving more awareness on HIV/AIDS</b></p>
<p style="top:797px"><b class="s n">36</b><b class="q1 n">4</b><b class="q2 n">1</b><b class="q3 n">3</b><b class="q4 n">1</b><b class="q5 n">4</b><b class="q6 n">2</b><b class="q7 n">1</b><b class="q8 n">4</b><b class="q9 n">3</b><b class="q10 n">3</b><b class="q11 n">1</b><b class="q12 n">1</b><b class="q13 n">2</b><b class="t14">More engaging</b><b class="t15">Yes</b><b class="q16 n">3</b><b class="t17">It is a virus</b><b class="q18 n">1</b><b class="t19">Sexually</b><b class="q20 n">1</b><b class="t21">Use of condoms</b><b class="k1 n">1</b><b class="k2 n">1</b><b class="k3 n">1</b><b class="k4 n">1</b><b class="k5 n">1</b><b class="k6 n">1</b><b class="t28">Moderately effective</b><b class="t29">Videos, news</b><b class="t30">Posting on social media platforms</b></p>
<p style="top:814px"><b class="s n">37</b><b class="q1 n">2</b><b class="q2 n">2</b><b class="q3 n">1</b><b class="q4 n">1</b><b class="q5 n">4</b><b class="q6 n">3</b><b class="q7 n">1</b><b class="q8 n">4</b><b class="q9 n">4</b><b class="q10 n">3</b><b class="q11 n">1</b><b class="q12 n">1</b><b class="q13 n">2</b><b class="t14">More engaging</b><b class="t15">No. Everybody cannot access the social media</b><b class="q16 n">3</b><b class="t17">A virus</b><b class="q18 n">1</b><b class="t19">Sexual contact</b><b class="q20 n">1</b><b class="t21">Use of condoms</b><b class="k1 n">1</b><b class="k2 n">1</b><b class="k3 n">1</b><b class="k4 n">1</b><b class="k5 n">1</b><b class="k6 n">1</b><b class="t28">Moderately effective</b><b class="t29">Videos, news</b><b class="t30">Posting on social media platforms</b></p>
<p style="top:831px"><b class="s n">38</b><b class="q1 n">3</b><b class="q2 n">1</b><b class="q3 n">2</b><b class="q4 n">1</b><b class="t5">1,2,3,4,5,6,7</b><b class="q6 n">3</b><b class="q7 n">1</b><b class="t8">1,2,3,4,5</b><b class="q9 n">1</b><b class="t10">1,5</b><b class="q11 n">1</b><b class="q12 n">1</b><b class="q13 n">2</b><b class="t14">Much</b><b class="t15">Yes it is kind of adverse and influential</b><b class="q16 n">1</b><b class="t17">Has no cure</b><b class="q18 n">1</b><b class="t19">Sexually, kissing</b><b class="q20 n">1</b><b class="t21">Condoms</b><b class="k1 n">1</b><b class="k2 n">1</b><b class="k3 n">2</b><b class="k4 n">1</b><b class="k5 n">1</b><b class="k6 n">2</b><b class="t28">Moderately</b><b class="t29">Ways on prevention, News</b><b class="t30">Side effects &amp; importance of drug adherence</b></p>
<p style="top:839px"><b class="s n">39</b><b class="q1 n">2</b><b class="q2 n">2</b><b class="q3 n">1</b><b class="q4 n">1</b><b class="t5">2,4</b><b class="q6 n">3</b><b class="q7 n">1</b><b class="t8">1,4</b><b class="q9 n">2</b><b class="t10">1,2,3</b><b class="q11 n">1</b><b class="q12 n">1</b><b class="q13 n">2</b><b class="t14">Engaging (moderate)</b><b class="t15">Yes</b><b class="q16 n">2</b><b class="t17">Acquire immune disorder</b><b class="q18 n">1</b><b class="t19">Unprotected sex</b><b class="q20 n">1</b><b class="t21">Abstinance</b><b class="k1 n">1</b><b class="k2 n">1</b><b class="k3 n">1</b><b class="k4 n">1</b><b class="k5 n">1</b><b class="k6 n">2</b><b class="t28">Very effective</b><b class="t29">Videos</b><b class="t30">Openness</b></p>
<p style="top:847px"><b class="s n">40</b><b class="t1">NA</b><b class="q2 n">2</b><b class="q3 n">3</b><b class="q4 n">1</b><b class="q5 n">1</b><b class="q6 n">2</b><b class="q7 n">1</b><b class="q8 n">1</b><b class="q9 n">2</b><b class="q10 n">2</b><b class="q11 n">1</b><b class="q12 n">2</b><b class="q13 n">2</b><b class="t14">It is tie</b><b class="t15">Yes</b><b class="q16 n">3</b><b class="t17">Has no cure</b><b class="q18 n">1</b><b class="t19">Sexual intercourse with infected person</b><b class="q20 n">1</b><b class="t21">Being faithful to your partner</b><b class="k1 n">1</b><b class="k2 n">1</b><b class="k3 n">1</b><b class="k4 n">1</b><b class="k5 n">1</b><b class="k6 n">2</b><b class="t28">More effective</b><b class="t29">Videos</b><b class="t30">Improving awareness</b></p>
<p style="top:873px"><b class="s n">41</b><b class="q1 n">4</b><b class="q2 n">2</b><b class="q3 n">2</b><b class="q4 n">1</b><b class="t5">1,2,3,4,5,6,7</b><b class="q6 n">4</b><b class="q7 n">1</b><b class="t8">1,2,3,4,5,6</b><b class="q9 n">1</b><b class="t10">1,2,4</b><b class="q11 n">1</b><b class="q12 n">1</b><b class="q13 n">2</b><b class="t14">Good</b><b class="t15">Yes, most people nowadays get access to information through the social media</b><b class="q16 n">1</b><b class="t17">HIV and AIDS is a transmitted disease</b><b class="q18 n">1</b><b class="t19">Sexual transmission, containment object i.e share object (sharing)</b><b class="q20 n">1</b><b class="t21">Use of porective measure i.e condoms, Abstaining for people under 18</b><b class="k1 n">1</b><b class="k2 n">1</b><b class="k3 n">1</b><b class="k4 n">1</b><b class="k5 n">1</b><b class="k6 n">2</b><b class="t28">Peer learning</b><b class="t29">Prevention measures, Those who have HIV &amp; AID to be encouraged on drug adherance ; avoiding stigmatization</b><b class="t30">The government to support the campaign and seminar</b></p>
<p style="top:891px"><b class="s n">42</b><b class="q1 n">7</b><b class="q2 n">1</b><b class="q3 n">3</b><b class="q4 n">1</b><b class="t5">1,2,3,4,5,6,7</b><b class="q6 n">3</b><b class="q7 n">1</b><b class="t8">1,2,3,4,5,6</b><b class="q9 n">2</b><b class="t10">2,4,5</b><b class="q11 n">1</b><b class="q12 n">1</b><b class="q13 n">2</b><b class="t14">Posting related content</b><b class="t15">Yes. Why I because most people are online</b><b class="q16 n">1</b><b class="t17">It is transmitted by sex, blood containing</b><b class="q18 n">1</b><b class="t19">Sex intercourse, share contained object</b><b class="q20 n">1</b><b class="t21">Avoid sharing share object</b><b class="k1 n">1</b><b class="k2 n">1</b><b class="k3 n">1</b><b class="k4 n">1</b><b class="k5 n">1</b><b class="k6 n">1</b><b class="t28">NA</b><b class="t29">NA</b><b class="t30">NA</b></p>
<p style="top:916px"><b class="s n">43</b><b class="q1 n">3</b><b class="t2">NA</b><b class="q3 n">1</b><b class="q4 n">1</b><b class="t5">1,2,3,4,5,6,7</b><b class="q6 n">3</b><b class="q7 n">1</b><b class="t8">1,2,3,4,5,6</b><b class="q9 n">2</b><b class="t10">1,2,4,53</b><b class="q11 n">1</b><b class="q12 n">1</b><b class="q13 n">1</b><b class="t14">Good</b><b class="t15">Yes, most people has access to social media</b><b class="q16 n">3</b><b class="t17">HIV and AID is transmittable disease</b><b class="q18 n">1</b><b class="t19">Through sex, semen, sharing sharp object</b><b class="q20 n">1</b><b class="t21">Abstainable, Protective measure i.e condoms, Avoid containment objects</b><b class="k1 n">2</b><b class="k2 n">1</b><b class="k3 n">1</b><b class="k4 n">1</b><b class="k5 n">1</b><b class="k6 n">1</b><b class="t28">Good, most yougth use social media to access information</b><b class="t29">Prevention measure, Action to take with, Encouraged the people living with HIV &amp; AIDs</b><b class="t30">More campaign, seminar</b></p>
<p style="top:933px"><b class="s n">44</b><b class="q1 n">3</b><b class="q2 n">1</b><b class="q3 n">1</b><b class="q4 n">1</b><b class="q5 n">2</b><b class="q6 n">3</b><b class="q7 n">1</b><b class="q8 n">6</b><b class="q9 n">4</b><b class="q10 n">1</b><b class="q11 n">2</b><b class="q12 n">2</b><b class="q13 n">2</b><b class="t14">Not very much advertised</b><b class="t15">Yes</b><b class="q16 n">1</b><b class="t17">A virus with no cure that is sexually transmitted</b><b class="q18 n">1</b><b class="t19">Unprotected sex, cuts from sharps, mother to child</b><b class="q20 n">1</b><b class="t21">Use condoms, screening blood before transfusion</b><b class="k1 n">2</b><b class="k2 n">2</b><b class="k3 n">2</b><b class="k4 n">1</b><b class="k5 n">2</b><b class="k6 n">2</b><b class="t28">It is very effective as its the only way to raise awareness among youths</b><b class="t29">Effects</b><b class="t30">Make social media awareness more to influence the youths</b></p>
<p style="top:950px"><b class="s n">45</b><b class="q1 n">1</b><b class="q2 n">1</b><b class="q3 n">1</b><b class="q4 n">1</b><b class="t5">1,5</b><b class="q6 n">2</b><b class="q7 n">1</b><b class="t8">1,4</b><b class="q9 n">2</b><b class="t10">2,3</b><b class="q11 n">2</b><b class="q12 n">2</b><b class="q13 n">2</b><b class="t14">Not quite engaging</b><b class="t15">Yes</b><b class="q16 n">3</b><b class="t17">Its a virus that mainly transmitted sexually</b><b class="q18 n">1</b><b class="t19">Through sex</b><b class="q20 n">1</b><b class="t21">Engaging in protected sex</b><b class="k1 n">1</b><b class="k2 n">1</b><b class="k3 n">2</b><b class="k4 n">1</b><b class="k5 n">1</b><b class="k6 n">2</b><b class="t28">NA</b><b class="t29">NA</b><b class="t30">NA</b></p>
<p style="top:968px"><b class="s n">46</b><b class="q1 n">4</b><b class="q2 n">2</b><b class="q3 n">2</b><b class="q4 n">1</b><b class="q5 n">4</b><b class="q6 n">2</b><b class="q7 n">1</b><b class="q8 n">4</b><b class="q9 n">3</b><b class="q10 n">5</b><b class="q11 n">1</b><b class="q12 n">2</b><b class="q13 n">2</b><b class="t14">NA</b><b class="t15">NA</b><b class="t16">NA</b><b class="t17">It is a virus transmitted through sex, blood contact with an infected person</b><b class="q18 n">1</b><b class="t19">Sex</b><b class="q20 n">1</b><b class="t21">Use of condoms</b><b class="k1 n">1</b><b class="k2 n">1</b><b class="k3 n">1</b><b class="k4 n">1</b><b class="k5 n">1</b><b class="k6 n">2</b><b class="t28">NA</b><b class="t29">About prevention of HIV/AIDS</b><b class="t30">NA</b></p>
<p style="top:1001px"><b class="s n">47</b><b class="q1 n">5</b><b class="q2 n">2</b><b class="q3 n">3</b><b class="q4 n">1</b><b class="t5">2,3,5</b><b class="q6 n">3</b><b class="q7 n">1</b><b class="t8">2,3</b><b class="q9 n">2</b><b class="q10 n">2</b><b class="q11 n">1</b><b class="q12 n">1</b><b class="q13 n">2</b><b class="t14">Highly engaging</b><b class="t15">Yes, at least a good number of youths are able to learn more about HIV</b><b class="q16 n">2</b><b class="t17">Its a human immuno deficiency virus that is transmitted through a change of body fluid e.g blood, semen and breast milk from infected person</b><b class="q18 n">1</b><b class="t19">Through sexual intercourse</b><b class="q20 n">1</b><b class="t21">Abstains, use of condoms</b><b class="k1 n">1</b><b class="k2 n">1</b><b class="k3 n">1</b><b class="k4 n">1</b><b class="k5 n">1</b><b class="k6 n">2</b><b class="t28">It has helped in reducing stigma, They can prevent themselves by use of condoms, Preps and PEPs</b><b class="t29">confessions</b><b class="t30">Educating people on preventive measures</b></p>
<p style="top:1026px"><b class="s n">48</b><b class="q1 n">3</b><b class="q2 n">1</b><b class="q3 n">2</b><b class="q4 n">1</b><b class="t5">1,2,4,5</b><b class="q6 n">2</b><b class="q7 n">1</b><b class="t8">2,4</b><b class="q9 n">1</b><b class="q10 n">5</b><b class="q11 n">1</b><b class="q12 n">1</b><b class="q13 n">2</b><b class="t14">Highly engaging</b><b class="t15">Yes, it creates awareness and makes people to be cautious on HIV and AIDs</b><b class="q16 n">1</b><b class="t17">It is a virus transmitted though a change of fluids with an infected person</b><b class="q18 n">1</b><b class="t19">Through exchange of body fluids with an infected person</b><b class="q20 n">1</b><b class="t21">Use of preps, Use of condoms</b><b class="k1 n">1</b><b class="k2 n">1</b><b class="k3 n">2</b><b class="k4 n">1</b><b class="k5 n">1</b><b class="k6 n">1</b><b class="t28">Highly effective</b><b class="t29">Preventive measures</b><b class="t30">To be podcastes through all social media platforms</b></p>
<p style="top:1052px"><b class="s n">49</b><b class="q1 n">5</b><b class="q2 n">2</b><b class="q3 n">3</b><b class="q4 n">1</b><b class="t5">1,4,5,6,7</b><b class="q6 n">3</b><b class="q7 n">1</b><b class="q8 n">4</b><b class="q9 n">2</b><b class="q10 n">2</b><b class="q11 n">1</b><b class="q12 n">1</b><b class="q13 n">1</b><b class="t14">It is highly engaging</b><b class="t15">Yes, I think so because people gets learned and are aware of what not to do</b><b class="q16 n">2</b><b class="t17">Its a human immunodeficiency virus transmitted through exchange of bodily fluids like breastmilk, blood</b><b class="q18 n">1</b><b class="t19">Sex with an infected person, Breast milk from sick mothers</b><b class="q20 n">1</b><b class="t21">Use of condoms, One sexual partner</b><b class="k1 n">1</b><b class="k2 n">1</b><b class="k3 n">1</b><b class="k4 n">1</b><b class="k5 n">1</b><b class="k6 n">1</b><b class="t28">It is highly effective</b><b class="t29">How to prevent ourselves</b><b class="t30">It should be broadcasted in all social media platforms</b></p>
<p style="top:1069px"><b class="s n">50</b><b class="q1 n">7</b><b class="q2 n">1</b><b class="q3 n">3</b><b class="q4 n">1</b><b class="t5">1,2,3,4,5,6,7</b><b class="q6 n">4</b><b class="q7 n">1</b><b class="t8">1,2,3,4,5,6</b><b class="q9 n">4</b><b class="t10">2,3</b><b class="q11 n">1</b><b class="q12 n">1</b><b class="q13 n">1</b><b class="t14">Very engaging</b><b class="t15">Yes it is. It helps prevent the spread by creating awareness</b><b class="q16 n">2</b><b class="t17">It is a viral disease that affects the immunity of an individual</b><b class="q18 n">1</b><b class="t19">Body fluids i.e blood, semen</b><b class="q20 n">1</b><b class="t21">Abstinance from unprotected sex</b><b class="k1 n">1</b><b class="k2 n">1</b><b class="k3 n">1</b><b class="k4 n">1</b><b class="k5 n">1</b><b class="k6 n">1</b><b class="t28">Very effective</b><b class="t29">Videos</b><b class="t30">Creating awareness on HIV/AIDs, preventing &amp; management</b></p>
<p style="top:1086px"><b class="s n">51</b><b class="q1 n">5</b><b class="q2 n">2</b><b class="q3 n">2</b><b class="q4 n">1</b><b class="q5 n">5</b><b class="q6 n">2</b><b class="q7 n">1</b><b class="q8 n">4</b><b class="q9 n">4</b><b class="q10 n">4</b><b class="q11 n">1</b><b class="q12 n">2</b><b class="q13 n">2</b><b class="t14">Stigmatization of infected person</b><b class="t15">Yes, makes everybody aware of it</b><b class="q16 n">3</b><b class="t17">It is a virus that is spread to body fluids</b><b class="q18 n">1</b><b class="t19">Unprotected sex with infected person, sharing of needles with infected person</b><b class="q20 n">1</b><b class="t21">Not sharing sharp objects, Use of protection during sexual intercourse</b><b class="k1 n">1</b><b class="k2 n">1</b><b class="k3 n">1</b><b class="k4 n">1</b><b class="k5 n">1</b><b class="k6 n">2</b><b class="t28">NA</b><b class="t29">NA</b><b class="t30">NA</b></p>
<p style="top:1103px"><b class="s n">52</b><b class="q1 n">3</b><b class="q2 n">2</b><b class="q3 n">1</b><b class="q4 n">1</b><b class="t5">1,2,3,4,5</b><b class="q6 n">4</b><b class="q7 n">1</b><b class="t8">1,2,3,4,5</b><b class="q9 n">5</b><b class="t10">3,4,5</b><b class="q11 n">2</b><b class="q12 n">2</b><b class="q13 n">1</b><b class="t14">Very low</b><b class="t15">Yes. Abundance of crowd</b><b class="q16 n">1</b><b class="t17">HIV advances to AIDs</b><b class="q18 n">1</b><b class="t19">Sex</b><b class="q20 n">1</b><b class="t21">Condoms, Abstaining</b><b class="k1 n">1</b><b class="k2 n">1</b><b class="k3 n">1</b><b class="k4 n">1</b><b class="k5 n">1</b><b class="k6 n">1</b><b class="t28">Very much Due to its availability and abundance the exchange of knowledge</b><b class="t29">Books, Courses</b><b class="t30">Mandatory schooling and publishing</b></p>
<p style="top:1128px"><b class="s n">53</b><b class="q1 n">4</b><b class="q2 n">2</b><b class="q3 n">1</b><b class="q4 n">1</b><b class="q5 n">2</b><b class="q6 n">1</b><b class="q7 n">1</b><b class="q8 n">1</b><b class="q9 n">4</b><b class="q10 n">4</b><b class="q11 n">1</b><b class="q12 n">1</b><b class="q13 n">2</b><b class="t14">Quite engaging</b><b class="t15">Yes. It is easily accessible</b><b class="q16 n">3</b><b class="t17">HIV/AIDs is a disease on a rise everyday and most people are dying due to lack of ARVs</b><b class="q18 n">1</b><b class="t19">Through blood transfusion, sexual intercourse</b><b class="q20 n">1</b><b class="t21">Avoid using contaminated sharp objects, Abstaining from sex</b><b class="k1 n">1</b><b class="k2 n">1</b><b class="k3 n">2</b><b class="k4 n">1</b><b class="k5 n">1</b><b class="k6 n">2</b><b class="t28">Very effective</b><b class="t29">Testimonials</b><b class="t30">Having Educative programs on HIV/AIDs</b></p>
<p style="top:1162px"><b class="s n">54</b><b class="q1 n">7</b><b class="q2 n">2</b><b class="q3 n">3</b><b class="q4 n">1</b><b class="q5 n">3</b><b class="q6 n">2</b><b class="q7 n">1</b><b class="t8">1,4,6</b><b class="q9 n">4</b><b class="t10">1,2,5</b><b class="q11 n">1</b><b class="q12 n">2</b><b class="q13 n">2</b><b class="t14">Not engaging</b><b class="t15">Not really, not everyone can access social media especially for the illiterates</b><b class="q16 n">1</b><b class="t17">A viral disease</b><b class="q18 n">1</b><b class="t19">Sharing sharp ojects, Unprotected sex</b><b class="q20 n">1</b><b class="t21">Safe sex</b><b class="k1 n">1</b><b class="k2 n">1</b><b class="k3 n">1</b><b class="k4 n">1</b><b class="k5 n">2</b><b class="k6 n">1</b><b class="t28">The youths become oriented and exposed to ways in which it is spread, prevention and management and its signs and symptoms</b><b class="t29">Educative contents of ways of preventing HIV/AIDS. Educating people on ways of living with people with HIV/AIDS</b><b class="t30">HIV/AIDS campaigns, HIV/AIDS nursing education</b></p>
<p style="top:1196px"><b class="s n">55</b><b class="q1 n">3</b><b class="q2 n">2</b><b class="q3 n">2</b><b class="q4 n">1</b><b class="t5">1,2,4,5,6,7</b><b class="q6 n">4</b><b class="q7 n">1</b><b class="q8 n">4</b><b class="q9 n">4</b><b class="q10 n">2</b><b class="q11 n">1</b><b class="q12 n">1</b><b class="q13 n">2</b><b class="t14">It is not so much engaging</b><b class="t15">Yes, since a lot of people nowadays use social media and frequently thus will reach big awareness and most young people are very active</b><b class="q16 n">3</b><b class="t17">It leads to stigma thus low esteem</b><b class="q18 n">1</b><b class="t19">Body fluids of infected person mother to child</b><b class="q20 n">1</b><b class="t21">Condom, IPC</b><b class="k1 n">3</b><b class="k2 n">2</b><b class="k3 n">1</b><b class="k4 n">2</b><b class="k5 n">1</b><b class="k6 n">1</b><b class="t28">Very effective</b><b class="t29">Control and preventive measures</b><b class="t30">Education videos</b></p>
<p style="top:1217px"><b class="s n">56</b><b class="q1 n">4</b><b class="q2 n">2</b><b class="q3 n">3</b><b class="q4 n">1</b><b class="t5">2,4,6</b><b class="q6 n">3</b><b class="q7 n">1</b><b class="t8">2,4</b><b class="q9 n">3</b><b class="t10">2,3,5</b><b class="q11 n">1</b><b class="q12 n">1</b><b class="q13 n">1</b><b class="t14">Very engaging</b><b class="t15">It is a good platform because it is anonymous</b><b class="q16 n">2</b><b class="t17">A lot including its modes of transmission and how to prevent oneself from getting it</b><b class="q18 n">1</b><b class="t19">Unprotected sex, Sharing needles and personal items</b><b class="q20 n">1</b><b class="t21">Having protected sex, Not sharing person items and needle</b><b class="k1 n">1</b><b class="k2 n">1</b><b class="k3 n">2</b><b class="k4 n">1</b><b class="k5 n">1</b><b class="k6 n">2</b><b class="t28">Very effective</b><b class="t29">Its stages and signs and symptoms</b><b class="t30">Share more videos and pictures on what happens after getting the HIV/AIDs</b></p>
<p style="top:1234px"><b class="s n">57</b><b class="q1 n">4</b><b class="q2 n">3</b><b class="q3 n">3</b><b class="q4 n">1</b><b class="t5">1,3,4,5,6,7</b><b class="q6 n">3</b><b class="q7 n">2</b><b class="t8">None</b><b class="q9 n">5</b><b class="t10">1,3</b><b class="q11 n">2</b><b class="q12 n">2</b><b class="q13 n">2</b><b class="t14">Barely, it is rarely published</b><b class="t15">No, social media is a platform used nowdays for fun</b><b class="q16 n">5</b><b class="t17">A transmittable virus in human through bodily fluids</b><b class="q18 n">1</b><b class="t19">Sex, transfusion</b><b class="q20 n">1</b><b class="t21">Abstainance</b><b class="k1 n">1</b><b class="k2 n">2</b><b class="k3 n">2</b><b class="k4 n">2</b><b class="k5 n">2</b><b class="k6 n">2</b><b class="t28">Barely able to reach the youth</b><b class="t29">Memes</b><b class="t30">Advertisment</b></p>
<p style="top:1252px"><b class="s n">58</b><b class="q1 n">4</b><b class="q2 n">2</b><b class="q3 n">2</b><b class="t4">NA</b><b class="t5" style="left:322px">2,4,7</b><b class="q6 n">1</b><b class="q7 n">1</b><b class="t8">2,6</b><b class="q9 n">3</b><b class="t10">1,5</b><b class="q11 n">2</b><b class="q12 n">2</b><b class="q13 n">1</b><b class="t14">Moderate</b><b class="t15">Not entirely</b><b class="q16 n">3</b><b class="t17">Its an acquired immune disease</b><b class="q18 n">1</b><b class="t19">Sexual intercourse, Unscreened blood transfusion</b><b class="q20 n">1</b><b class="t21">Abstinance</b><b class="k1 n">3</b><b class="k2 n">2</b><b class="k3 n">2</b><b class="k4 n">2</b><b class="k5 n">2</b><b class="k6 n">2</b><b class="t28">Its moderate</b><b class="t29">Its signs and symptoms</b><b class="t30">More ads and testimonies</b></p>
<p style="top:1307px"><b class="s n">59</b><b class="q1 n">4</b><b class="q2 n">2</b><b class="q3 n">1</b><b class="q4 n">1</b><b class="t5">2,4,5,6,7</b><b class="q6 n">3</b><b class="q7 n">1</b><b class="q8 n">4</b><b class="q9 n">2</b><b class="q10 n">1</b><b class="q11 n">2</b><b class="q12 n">2</b><b class="q13 n">2</b><b class="t14">High-Content that is personal and relatable tends to do much better. Stories of people living with HIV, interactive questions and influencer led campaigns can facilitate meaningful engagement</b><b class="t15">Yes, This is because most of the peiple use social media</b><b class="q16 n">1</b><b class="t17">It is a virus that weakens a person's immune system by target the CD4 cells type of white and blood cells that fights inefction</b><b class="q18 n">1</b><b class="t19">Sharing sharp pobjects with infects persons, sexual intercourse with an infected person</b><b class="q20 n">1</b><b class="t21">Abstaining from sex, Avoid sharing sharp objects</b><b class="k1 n">1</b><b class="k2 n">2</b><b class="k3 n">1</b><b class="k4 n">1</b><b class="k5 n">1</b><b class="k6 n">2</b><b class="t28">Very effective in a case like Tiktok you get to learn the different ways that HIV/AIDs can be spread and the symptoms you need to check for incase you suspecte that you have contacted HIV/AIDS</b><b class="t29">Creative visual content, Youth-led campaigns</b><b class="t30">Encourage the youth to watch HIV/AIDs related content on social media to create awareness among themselves</b></p>
<p style="top:1357px"><b class="s n">60</b><b class="q1 n">4</b><b class="q2 n">1</b><b class="q3 n">3</b><b class="q4 n">1</b><b class="t5">2,4,5,7</b><b class="q6 n">4</b><b class="q7 n">1</b><b class="t8">2,4</b><b class="q9 n">3</b><b class="t10">1,4,5</b><b class="q11 n">1</b><b class="q12 n">1</b><b class="q13 n">1</b><b class="t14">It is quite engaging</b><b class="t15">Yes, this is due to a rampant number of people in the social media</b><b class="q16 n">1</b><b class="t17">HIV and AIDS is a disease caused by HIV virus leading to low immunity if not attended to early and can cause death in severe scenarios</b><b class="q18 n">1</b><b class="t19">Exchange of body fluids i.e through kissing and blood transfusion, Practicing unprotected coitus with individuals who are positive</b><b class="q20 n">1</b><b class="t21">Primarily, individuals should give their health priority and practice safe sex, know their status, abstain and wear protections when handling body fluids from others</b><b class="k1 n">1</b><b class="k2 n">1</b><b class="k3 n">1</b><b class="k4 n">2</b><b class="k5 n">1</b><b class="k6 n">1</b><b class="t28">It's quite effective to youths who mostly come across testimonies and articles concerning HIV and AIDs patients</b><b class="t29">I'd prefer more testimonies from HIV positive people concerning their journey in battling with the virus</b><b class="t30">I'd suggest online meetings concerning awareness about HIV and Aids and also various social media handles to increase their advert output concerning dangers and preventive measures against HIV/AIDS</b></p>
<p style="top:1365px"><b class="s n">61</b></p>
<p style="top:1373px"><b class="s n">62</b></p>
</body></html>
